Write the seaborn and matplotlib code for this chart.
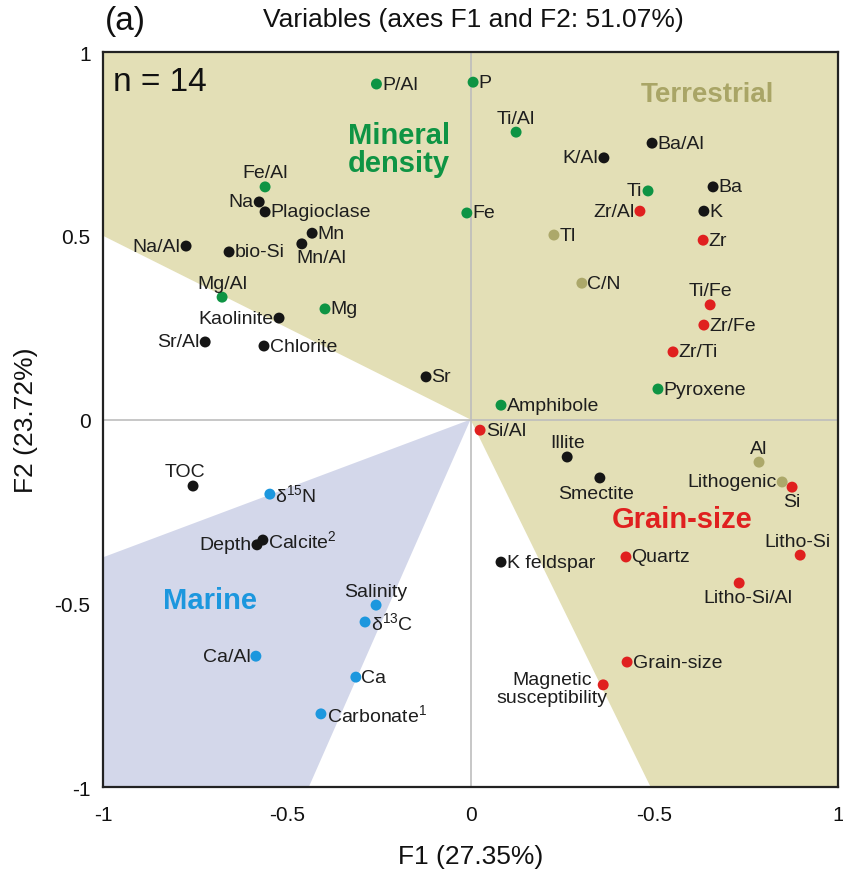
import matplotlib
matplotlib.use("Agg")
import matplotlib.pyplot as plt
import seaborn as sns
import pandas as pd

sns.set_theme(style="white")
plt.rcParams["font.family"] = ["Liberation Sans", "DejaVu Sans"]
plt.rcParams["mathtext.fontset"] = "custom"
plt.rcParams["mathtext.rm"] = "Liberation Sans"
plt.rcParams["mathtext.it"] = "Liberation Sans:italic"
plt.rcParams["mathtext.bf"] = "Liberation Sans:bold"

# ---- PCA loadings (F1, F2) ----
variables = ["P/Al", "P", "Ti/Al", "K/Al", "Ba/Al", "Fe/Al", "Na", "Plagioclase",
             "Ti", "Ba", "Zr/Al", "K", "Fe", "Mn", "Na/Al", "bio-Si", "Mn/Al",
             "Tl", "Zr", "Mg/Al", "C/N", "Mg", "Kaolinite", "Ti/Fe", "Sr/Al",
             "Chlorite", "Zr/Fe", "Zr/Ti", "Sr", "Pyroxene", "Amphibole", "Si/Al",
             "Illite", "Al", "Smectite", "Lithogenic", "Si", "TOC", "d15N",
             "Depth", "Calcite2", "Litho-Si", "Quartz", "K feldspar", "Litho-Si/Al",
             "Salinity", "d13C", "Ca/Al", "Grain-size", "Magnetic susceptibility",
             "Ca", "Carbonate1"]
f1 = [-0.256, 0.007, 0.124, 0.363, 0.494, -0.559, -0.575, -0.559,
      0.483, 0.660, 0.461, 0.635, -0.010, -0.431, -0.774, -0.657, -0.459,
      0.227, 0.633, -0.676, 0.303, -0.396, -0.521, 0.652, -0.722,
      -0.562, 0.635, 0.551, -0.121, 0.510, 0.083, 0.026,
      0.263, 0.785, 0.352, 0.848, 0.875, -0.755, -0.546,
      -0.581, -0.565, 0.897, 0.423, 0.083, 0.731,
      -0.257, -0.287, -0.584, 0.426, 0.361,
      -0.312, -0.407]
f2 = [0.913, 0.918, 0.782, 0.712, 0.752, 0.633, 0.592, 0.565,
      0.622, 0.633, 0.567, 0.567, 0.562, 0.507, 0.472, 0.456, 0.478,
      0.502, 0.488, 0.333, 0.371, 0.301, 0.276, 0.312, 0.211,
      0.200, 0.257, 0.184, 0.116, 0.083, 0.039, -0.029,
      -0.102, -0.116, -0.159, -0.170, -0.184, -0.181, -0.203,
      -0.341, -0.328, -0.369, -0.374, -0.388, -0.445,
      -0.505, -0.551, -0.644, -0.660, -0.722,
      -0.701, -0.801]
groups = ["density", "density", "density", "other", "other", "density", "other", "other",
          "density", "other", "grain", "other", "density", "other", "other", "other", "other",
          "terr", "grain", "density", "terr", "density", "other", "grain", "other",
          "other", "grain", "grain", "other", "density", "density", "grain",
          "other", "terr", "other", "terr", "grain", "other", "marine",
          "other", "other", "grain", "grain", "other", "grain",
          "marine", "marine", "marine", "grain", "grain",
          "marine", "marine"]

# Sector outlines (F1, F2)
terr_f1 = [0.0, -1.0, -1.0, 1.0, 1.0, 0.49]
terr_f2 = [0.0, 0.5, 1.0, 1.0, -1.0, -1.0]
marine_f1 = [0.0, -1.0, -1.0, -0.44]
marine_f2 = [0.0, -0.375, -1.0, -1.0]

x_ticks = [-1, -0.5, 0, 0.5, 1]
x_ticklabels = ["-1", "-0.5", "0", "-0.5", "1"]
y_ticks = [-1, -0.5, 0, 0.5, 1]
y_ticklabels = ["-1", "-0.5", "0", "0.5", "1"]

palette = {"density": "#0E9444", "other": "#151515", "grain": "#E0201F",
           "terr": "#ACA86A", "marine": "#1C97DE"}

display = {"d15N": r"δ$^{15}$N", "d13C": r"δ$^{13}$C",
           "Calcite2": r"Calcite$^{2}$", "Carbonate1": r"Carbonate$^{1}$",
           "Magnetic susceptibility": "Magnetic\nsusceptibility"}

# label placement: (dx, dy in points, ha, va)
R = (4, 0, "left", "center")
L = (-4, 0, "right", "center")
U = (0, 4, "center", "bottom")
D = (0, -4, "center", "top")
place = {v: R for v in variables}
place.update({
    "Ti/Al": U, "K/Al": L, "Fe/Al": U, "Na": L, "Ti": L, "Zr/Al": L,
    "Na/Al": L, "Mn/Al": (-4, -4, "left", "top"), "Mg/Al": U, "Kaolinite": L,
    "Ti/Fe": U, "Sr/Al": L, "Illite": U, "Al": U, "Smectite": (-3, -5, "center", "top"),
    "Lithogenic": L, "Si": D, "TOC": (-6, 4, "center", "bottom"), "Depth": L,
    "Litho-Si": (-2, 4, "center", "bottom"), "Litho-Si/Al": (6, -4, "center", "top"),
    "Salinity": U, "Ca/Al": L,
    "Magnetic susceptibility": (3, 10, "right", "top"),
})

df = pd.DataFrame({"variable": variables, "F1": f1, "F2": f2, "group": groups})

fig = plt.figure(figsize=(8.43, 8.78), dpi=100)
ax = fig.add_axes([0.1222, 0.1025, 0.8719, 0.8371])

ax.fill(terr_f1, terr_f2, color="#E3DFB6", lw=0, zorder=0)
ax.fill(marine_f1, marine_f2, color="#D3D7EA", lw=0, zorder=0)
ax.axhline(0, color="#BDBDBD", lw=1.2, zorder=1)
ax.axvline(0, color="#BDBDBD", lw=1.2, zorder=1)

sns.scatterplot(data=df, x="F1", y="F2", hue="group", palette=palette,
                s=62, edgecolor="none", legend=False, ax=ax, zorder=3)

for _, row in df.iterrows():
    dx, dy, ha, va = place[row["variable"]]
    ax.annotate(display.get(row["variable"], row["variable"]),
                (row["F1"], row["F2"]), xytext=(dx, dy), textcoords="offset points",
                ha=ha, va=va, fontsize=14, color="#1E1E1E", zorder=4,
                multialignment="center", linespacing=1.05)

ax.text(-0.973, 0.921, "n = 14", fontsize=24, ha="left", va="center", color="#111111")
ax.text(-0.195, 0.736, "Mineral\ndensity", fontsize=21, fontweight="bold",
        color="#0E9444", ha="center", va="center", linespacing=1.0)
ax.text(0.646, 0.886, "Terrestrial", fontsize=20, fontweight="bold",
        color="#A9A566", ha="center", va="center")
ax.text(0.575, -0.271, "Grain-size", fontsize=21, fontweight="bold",
        color="#E0201F", ha="center", va="center")
ax.text(-0.709, -0.491, "Marine", fontsize=21, fontweight="bold",
        color="#1C97DE", ha="center", va="center")

ax.set_xlim(-1, 1)
ax.set_ylim(-1, 1)
ax.set_xticks(x_ticks)
ax.set_xticklabels(x_ticklabels, fontsize=15)
ax.set_yticks(y_ticks)
ax.set_yticklabels(y_ticklabels, fontsize=15)
ax.tick_params(axis="x", length=0, pad=13, colors="#111111")
ax.tick_params(axis="y", length=0, pad=9, colors="#111111")
ax.set_xlabel("F1 (27.35%)", fontsize=19, labelpad=14, color="#111111")
ax.set_ylabel("F2 (23.72%)", fontsize=19, labelpad=12, color="#111111")
for sp in ax.spines.values():
    sp.set_color("#222222")
    sp.set_linewidth(1.6)
ax.grid(False)

fig.text(0.561, 0.977, "Variables (axes F1 and F2: 51.07%)",
         fontsize=19, ha="center", va="center", color="#111111")
fig.text(0.124, 0.975, "(a)", fontsize=24, ha="left", va="center",
         color="#111111")

fig.savefig("out.png", dpi=100)
